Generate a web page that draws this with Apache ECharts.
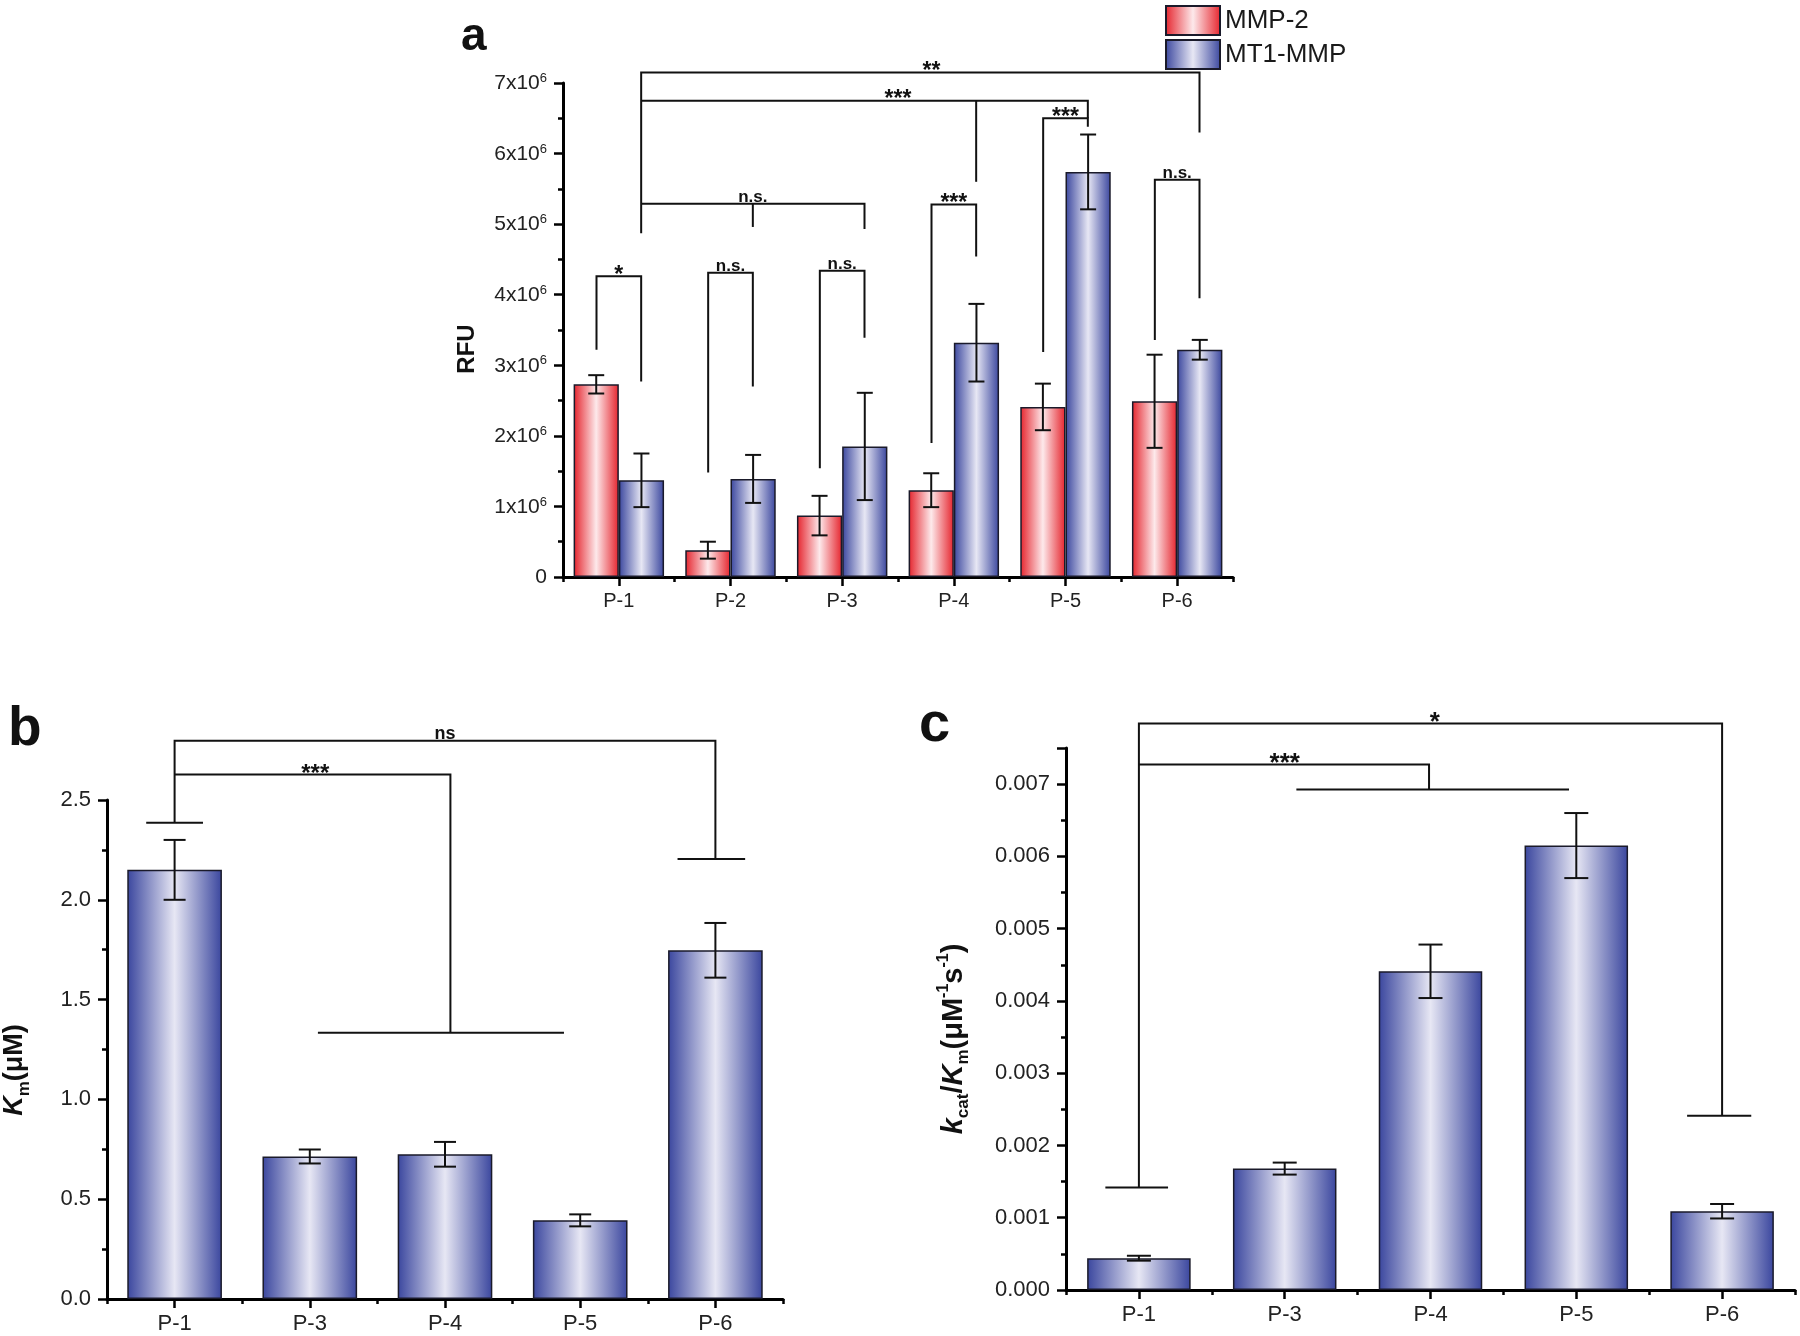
<!DOCTYPE html>
<html>
<head>
<meta charset="utf-8">
<script src="https://cdn.jsdelivr.net/npm/echarts@6/dist/echarts.min.js"></script>
<style>html,body{margin:0;padding:0;background:#fff;}#chart{width:1800px;height:1336px;}</style>
</head>
<body>
<div id="chart"></div>
<script>
// ---------- data ----------
const catsA = ['P-1', 'P-2', 'P-3', 'P-4', 'P-5', 'P-6'];
const mmp2 = [2.73e6, 0.38e6, 0.87e6, 1.23e6, 2.41e6, 2.49e6];
const mmp2Err = [0.13e6, 0.12e6, 0.28e6, 0.24e6, 0.33e6, 0.66e6];
const mt1 = [1.37e6, 1.39e6, 1.85e6, 3.32e6, 5.74e6, 3.22e6];
const mt1Err = [0.38e6, 0.34e6, 0.76e6, 0.55e6, 0.53e6, 0.14e6];

const catsBC = ['P-1', 'P-3', 'P-4', 'P-5', 'P-6'];
const km = [2.15, 0.714, 0.725, 0.394, 1.747];
const kmErr = [0.15, 0.035, 0.062, 0.03, 0.137];
const kcatKm = [0.00044, 0.00168, 0.00441, 0.00615, 0.00109];
const kcatKmErr = [0.000034, 0.000083, 0.00037, 0.00045, 0.0001];

// significance brackets: polylines of [category position, value]
const sigALines = [
  [[-0.2, 3.22e6], [-0.2, 4.26e6], [0.2, 4.26e6], [0.2, 2.77e6]],
  [[0.8, 1.48e6], [0.8, 4.31e6], [1.2, 4.31e6], [1.2, 2.70e6]],
  [[1.8, 1.54e6], [1.8, 4.34e6], [2.2, 4.34e6], [2.2, 3.39e6]],
  [[2.8, 1.90e6], [2.8, 5.28e6], [3.2, 5.28e6], [3.2, 4.54e6]],
  [[3.8, 3.19e6], [3.8, 6.50e6], [4.2, 6.50e6], [4.2, 6.38e6]],
  [[4.8, 3.36e6], [4.8, 5.63e6], [5.2, 5.63e6], [5.2, 3.95e6]],
  [[0.2, 5.29e6], [2.2, 5.29e6], [2.2, 4.93e6]],
  [[1.2, 5.29e6], [1.2, 4.96e6]],
  [[0.2, 6.75e6], [4.2, 6.75e6], [4.2, 6.50e6]],
  [[3.2, 6.75e6], [3.2, 5.60e6]],
  [[0.2, 4.87e6], [0.2, 7.15e6], [5.2, 7.15e6], [5.2, 6.30e6]]
];
const sigALabels = [
  [0, 4.26e6, '*'], [1, 4.31e6, 'n.s.'], [2, 4.34e6, 'n.s.'], [3, 5.28e6, '***'],
  [4, 6.50e6, '***'], [5, 5.63e6, 'n.s.'], [1.2, 5.29e6, 'n.s.'], [2.5, 6.75e6, '***'],
  [2.8, 7.15e6, '**']
];
const sigBLines = [
  [[0, 2.386], [0, 2.797], [4, 2.797], [4, 2.205]],
  [[-0.21, 2.386], [0.21, 2.386]],
  [[3.72, 2.205], [4.22, 2.205]],
  [[0, 2.628], [2.04, 2.628], [2.04, 1.334]],
  [[1.06, 1.334], [2.88, 1.334]]
];
const sigBLabels = [[2, 2.797, 'ns'], [1.04, 2.628, '***']];
const sigCLines = [
  [[0, 0.001417], [0, 0.00784], [4, 0.00784], [4, 0.00241]],
  [[-0.23, 0.001417], [0.2, 0.001417]],
  [[3.76, 0.00241], [4.2, 0.00241]],
  [[0, 0.00727], [1.99, 0.00727], [1.99, 0.006926]],
  [[1.08, 0.006926], [2.95, 0.006926]]
];
const sigCLabels = [[2.03, 0.00784, '*'], [1.0, 0.00727, '***']];

// ---------- styles ----------
const FF = '"Liberation Sans", Arial, sans-serif';
const INK = '#111';
function grad(edge, mid) {
  return { type: 'linear', x: 0, y: 0, x2: 1, y2: 0,
    colorStops: [{ offset: 0, color: edge }, { offset: 0.5, color: mid }, { offset: 1, color: edge }] };
}
const redFill = grad('#e5232c', '#fde9eb');
const blueFill = grad('#3a469e', '#e7e7f4');

function yAxisCommon(extra) {
  return Object.assign({
    type: 'value',
    axisLine: { show: true, lineStyle: { color: '#000', width: 3 } },
    axisTick: { show: true, inside: false, length: 9, lineStyle: { color: '#000', width: 2.5 } },
    minorTick: { show: true, splitNumber: 2, length: 5, lineStyle: { color: '#000', width: 2.5 } },
    splitLine: { show: false },
    nameLocation: 'middle'
  }, extra);
}
function xAxisMain(grid, cats, fs) {
  return {
    type: 'category', gridIndex: grid, data: cats, position: 'bottom',
    axisLine: { show: true, lineStyle: { color: '#000', width: 3 } },
    axisTick: { show: true, alignWithLabel: true, length: 9, lineStyle: { color: '#000', width: 2.5 } },
    axisLabel: { fontFamily: FF, fontSize: fs, color: '#222', margin: 14 },
    splitLine: { show: false }
  };
}
function xAxisMinor(grid, cats) {
  return {
    type: 'category', gridIndex: grid, data: cats, position: 'bottom',
    axisLine: { show: false },
    axisTick: { show: true, alignWithLabel: false, length: 5, lineStyle: { color: '#000', width: 2.5 } },
    axisLabel: { show: false },
    splitLine: { show: false }
  };
}
function barSeries(name, xi, yi, vals, fill, gap) {
  return {
    name: name, type: 'bar', xAxisIndex: xi, yAxisIndex: yi, data: vals,
    barGap: '0%', barCategoryGap: gap,
    itemStyle: { color: fill, borderColor: '#1a1a2a', borderWidth: 1.5 },
    emphasis: { disabled: true }, z: 2
  };
}
function errSeries(xi, yi, vals, errs, offset, capW) {
  return {
    type: 'custom', xAxisIndex: xi, yAxisIndex: yi, z: 5, silent: true,
    data: vals.map((v, i) => [i, v - errs[i], v + errs[i]]),
    encode: { x: 0, y: [1, 2] },
    renderItem: function (params, api) {
      const bw = api.size([1, 0])[0];
      const lo = api.coord([api.value(0), api.value(1)]);
      const hi = api.coord([api.value(0), api.value(2)]);
      const x = lo[0] + offset * bw;
      const st = { stroke: INK, lineWidth: 2 };
      return { type: 'group', children: [
        { type: 'line', shape: { x1: x, y1: lo[1], x2: x, y2: hi[1] }, style: st },
        { type: 'line', shape: { x1: x - capW / 2, y1: lo[1], x2: x + capW / 2, y2: lo[1] }, style: st },
        { type: 'line', shape: { x1: x - capW / 2, y1: hi[1], x2: x + capW / 2, y2: hi[1] }, style: st }
      ] };
    }
  };
}
function sigSeries(xi, yi, lines, labels, fs, starFs) {
  return {
    type: 'custom', xAxisIndex: xi, yAxisIndex: yi, z: 10, silent: true, clip: false,
    data: [[0, 0]],
    renderItem: function (params, api) {
      const bw = api.size([1, 0])[0];
      const P = (x, y) => { const b = Math.round(x); const c = api.coord([b, y]); return [c[0] + (x - b) * bw, c[1]]; };
      const children = [];
      lines.forEach(l => children.push({ type: 'polyline', shape: { points: l.map(p => P(p[0], p[1])) },
        style: { stroke: INK, lineWidth: 2, fill: null } }));
      labels.forEach(t => {
        const p = P(t[0], t[1]);
        const star = t[2].indexOf('*') >= 0;
        children.push({ type: 'text', x: p[0], y: star ? p[1] - 0.5 : p[1] + 2,
          style: { text: t[2], fontSize: star ? starFs : fs, fontWeight: 'bold', fontFamily: FF, fill: INK,
            align: 'center', verticalAlign: star ? 'middle' : 'bottom' } });
      });
      return { type: 'group', children: children };
    }
  };
}

const kmRich = {
  i: { fontSize: 27, fontWeight: 'bold', fontStyle: 'italic', fill: '#111', lineHeight: 32, verticalAlign: 'top', fontFamily: FF },
  sub: { fontSize: 17, fontWeight: 'bold', fill: '#111', lineHeight: 32, verticalAlign: 'bottom', fontFamily: FF },
  e: { fontSize: 27, fontWeight: 'bold', fill: '#111', lineHeight: 32, verticalAlign: 'top', fontFamily: FF }
};

const option = {
  backgroundColor: '#fff',
  animation: false,
  textStyle: { fontFamily: FF },
  legend: {
    data: ['MMP-2', 'MT1-MMP'], orient: 'vertical', left: 1165, top: 5, padding: 0,
    itemWidth: 54, itemHeight: 29, itemGap: 3, icon: 'rect',
    textStyle: { fontFamily: FF, fontSize: 26, color: '#1a1a1a' }
  },
  grid: [
    { left: 563, top: 83, width: 670, height: 494 },
    { left: 107, top: 800, width: 676, height: 499 },
    { left: 1066, top: 748, width: 729, height: 542 }
  ],
  xAxis: [
    xAxisMain(0, catsA, 20), xAxisMinor(0, catsA),
    xAxisMain(1, catsBC, 22), xAxisMinor(1, catsBC),
    xAxisMain(2, catsBC, 22), xAxisMinor(2, catsBC)
  ],
  yAxis: [
    yAxisCommon({ gridIndex: 0, min: 0, max: 7e6, interval: 1e6,
      axisLabel: { margin: 16, color: '#222', fontFamily: FF,
        formatter: v => v === 0 ? '{b|0}' : '{b|' + Math.round(v / 1e6) + 'x10}{s|6}',
        rich: { b: { fontSize: 21, fontFamily: FF, color: '#222', lineHeight: 22, verticalAlign: 'bottom' },
                s: { fontSize: 13, fontFamily: FF, color: '#222', lineHeight: 22, verticalAlign: 'top' } } },
      name: 'RFU', nameGap: 84,
      nameTextStyle: { fontSize: 24, fontWeight: 'bold', color: '#111', fontFamily: FF, padding: [0, 38, 0, 0] } }),
    yAxisCommon({ gridIndex: 1, min: 0, max: 2.5, interval: 0.5,
      axisLabel: { margin: 16, fontSize: 22, color: '#222', fontFamily: FF, formatter: v => v.toFixed(1) } }),
    yAxisCommon({ gridIndex: 2, min: 0, max: 0.0075, interval: 0.001,
      axisLabel: { margin: 16, fontSize: 22, color: '#222', fontFamily: FF, showMaxLabel: false, formatter: v => v.toFixed(3) },
      name: '{i|k}{sub|cat}{n|/}{i|K}{sub|m}{n|(μM}{sup|-1}{n|s}{sup|-1}{n|)}', nameGap: 94,
      nameTextStyle: { fontFamily: FF, padding: [0, 40, 0, 0], rich: {
        i: { fontSize: 29, fontWeight: 'bold', fontStyle: 'italic', color: '#111', lineHeight: 36, verticalAlign: 'middle', fontFamily: FF },
        sub: { fontSize: 17, fontWeight: 'bold', color: '#111', lineHeight: 36, verticalAlign: 'bottom', fontFamily: FF },
        sup: { fontSize: 16, fontWeight: 'bold', color: '#111', lineHeight: 36, verticalAlign: 'top', fontFamily: FF },
        n: { fontSize: 29, fontWeight: 'bold', color: '#111', lineHeight: 36, verticalAlign: 'middle', fontFamily: FF } } } })
  ],
  series: [
    barSeries('MMP-2', 0, 0, mmp2, redFill, '19%'),
    barSeries('MT1-MMP', 0, 0, mt1, blueFill, '19%'),
    errSeries(0, 0, mmp2, mmp2Err, -0.2025, 16),
    errSeries(0, 0, mt1, mt1Err, 0.2025, 16),
    sigSeries(0, 0, sigALines, sigALabels, 17, 23),
    barSeries('Km', 2, 1, km, blueFill, '30%'),
    errSeries(2, 1, km, kmErr, 0, 22),
    sigSeries(2, 1, sigBLines, sigBLabels, 18, 24),
    barSeries('kcat/Km', 4, 2, kcatKm, blueFill, '29%'),
    errSeries(4, 2, kcatKm, kcatKmErr, 0, 24),
    sigSeries(4, 2, sigCLines, sigCLabels, 20, 26)
  ],
  graphic: [
    { type: 'text', left: 461, top: 14, style: { text: 'a', font: 'bold 46px ' + FF, fill: '#111' } },
    { type: 'text', left: 8, top: 702, style: { text: 'b', font: 'bold 55px ' + FF, fill: '#111' } },
    { type: 'text', left: 919, top: 698, style: { text: 'c', font: 'bold 56px ' + FF, fill: '#111' } },
    { type: 'text', x: 17, y: 1070, rotation: Math.PI / 2,
      style: { text: '{i|K}{sub|m}{e|(μM)}', rich: kmRich, align: 'center', verticalAlign: 'middle', fontFamily: FF } }
  ]
};

const chart = echarts.init(document.getElementById('chart'), null, { renderer: 'canvas' });
chart.setOption(option);
</script>
</body>
</html>
